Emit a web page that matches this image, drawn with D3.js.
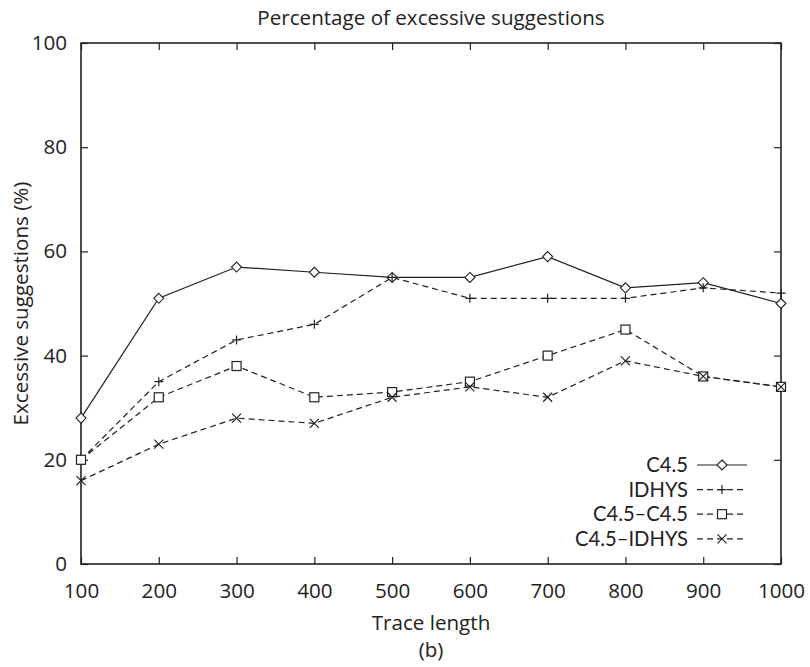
<!DOCTYPE html>
<html><head><meta charset="utf-8">
<script src="https://cdn.jsdelivr.net/npm/d3@7"></script>
<style>body{margin:0;background:#fff}svg{display:block}text{font-family:"Open Sans","Noto Sans",sans-serif;fill:#222}</style>
</head><body>
<svg id="c" width="810" height="667"></svg>
<script>
const traceLengths = [100,200,300,400,500,600,700,800,900,1000];
const c45 = [28,51,57,56,55,55,59,53,54,50];
const idhys = [20,35,43,46,55,51,51,51,53,52];
const c45c45 = [20,32,38,32,33,35,40,45,36,34];
const c45idhys = [16,23,28,27,32,34,32,39,36,34];
const seriesNames = ["C4.5","IDHYS","C4.5\u2013C4.5","C4.5\u2013IDHYS"];
const yTicks = [0,20,40,60,80,100];
const title = "Percentage of excessive suggestions";
const xLabel = "Trace length";
const yLabel = "Excessive suggestions (%)";
const caption = "(b)";

const series = [
  {name: seriesNames[0], values: c45, marker: "diamond", dash: null},
  {name: seriesNames[1], values: idhys, marker: "plus", dash: "6,4"},
  {name: seriesNames[2], values: c45c45, marker: "square", dash: "6,4"},
  {name: seriesNames[3], values: c45idhys, marker: "cross", dash: "6,4"}
];

const svg = d3.select("#c");
const L=81, R=781, T=43, B=564;
const x = d3.scaleLinear().domain([100,1000]).range([L,R]);
const y = d3.scaleLinear().domain([0,100]).range([B,T]);
const col = "#222";
const tl = 7;
const fs = 20.6;

const gx = svg.append("g").attr("transform",`translate(0,${B})`)
  .call(d3.axisBottom(x).tickValues(traceLengths).tickSizeInner(-tl).tickSizeOuter(0).tickPadding(19).tickFormat(d3.format("d")));
const gxt = svg.append("g").attr("transform",`translate(0,${T})`)
  .call(d3.axisTop(x).tickValues(traceLengths).tickSizeInner(-tl).tickSizeOuter(0).tickFormat(""));
const gy = svg.append("g").attr("transform",`translate(${L},0)`)
  .call(d3.axisLeft(y).tickValues(yTicks).tickSizeInner(-tl).tickSizeOuter(0).tickPadding(14));
const gyr = svg.append("g").attr("transform",`translate(${R},0)`)
  .call(d3.axisRight(y).tickValues(yTicks).tickSizeInner(-tl).tickSizeOuter(0).tickFormat(""));
[gx,gxt,gy,gyr].forEach(g=>{
  g.select(".domain").remove();
  g.selectAll("line").attr("stroke",col).attr("stroke-width",1.2);
  g.selectAll("text").attr("font-size",fs).attr("fill",col).style("font-family","'Open Sans','Noto Sans',sans-serif");
});
svg.append("rect").attr("x",L).attr("y",T).attr("width",R-L).attr("height",B-T)
  .attr("fill","none").attr("stroke",col).attr("stroke-width",1.6);

function drawMarker(g, type, cx, cy){
  const s = 4.5;
  if(type==="diamond"){
    g.append("path").attr("d",`M${cx},${cy-s-0.5}L${cx+s+0.5},${cy}L${cx},${cy+s+0.5}L${cx-s-0.5},${cy}Z`)
      .attr("fill","#fff").attr("stroke",col).attr("stroke-width",1.1);
  } else if(type==="plus"){
    g.append("path").attr("d",`M${cx-s},${cy}H${cx+s}M${cx},${cy-s}V${cy+s}`).attr("stroke",col).attr("stroke-width",1.2);
  } else if(type==="square"){
    g.append("rect").attr("x",cx-s).attr("y",cy-s).attr("width",2*s).attr("height",2*s)
      .attr("fill","#fff").attr("stroke",col).attr("stroke-width",1.2);
  } else if(type==="cross"){
    g.append("path").attr("d",`M${cx-s},${cy-s}L${cx+s},${cy+s}M${cx-s},${cy+s}L${cx+s},${cy-s}`).attr("stroke",col).attr("stroke-width",1.2);
  }
}

const line = d3.line().x((d,i)=>x(traceLengths[i])).y(d=>y(d));
series.forEach(s=>{
  svg.append("path").datum(s.values).attr("d",line).attr("fill","none")
    .attr("stroke",col).attr("stroke-width",1.2).attr("stroke-dasharray",s.dash);
});
series.forEach(s=>{
  const g = svg.append("g");
  s.values.forEach((v,i)=>drawMarker(g,s.marker,x(traceLengths[i]),y(v)));
});

series.forEach((s,i)=>{
  const ly = 465 + i*24.6;
  svg.append("text").attr("x",688).attr("y",ly).attr("dy","0.35em").attr("text-anchor","end")
    .attr("font-size",20.2).style("font-family","Lato,'Open Sans',sans-serif").text(s.name);
  svg.append("line").attr("x1",697).attr("x2",747).attr("y1",ly).attr("y2",ly)
    .attr("stroke",col).attr("stroke-width",1.2).attr("stroke-dasharray",s.dash);
  drawMarker(svg.append("g"),s.marker,722,ly);
});

svg.append("text").attr("x",(L+R)/2).attr("y",25).attr("text-anchor","middle").attr("font-size",fs).text(title);
svg.append("text").attr("x",(L+R)/2).attr("y",630).attr("text-anchor","middle").attr("font-size",fs).text(xLabel);
svg.append("text").attr("x",(L+R)/2).attr("y",657).attr("text-anchor","middle").attr("font-size",fs).text(caption);
svg.append("text").attr("transform",`translate(28,${(T+B)/2}) rotate(-90)`).attr("text-anchor","middle").attr("font-size",fs).text(yLabel);
</script>
</body></html>
